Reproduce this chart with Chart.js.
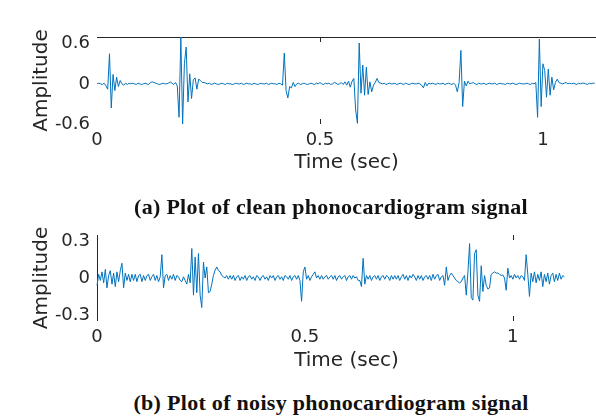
<!DOCTYPE html>
<html lang="en">
<head>
<meta charset="UTF-8">
<title>Phonocardiogram signals</title>
<script src="https://cdn.jsdelivr.net/npm/chart.js"></script>
<style>
  body { margin: 0; width: 596px; height: 416px; overflow: hidden; background: #fff; position: relative; }
  canvas { position: absolute; left: 0; }
  #cleanChart { top: 0; }
  #noisyChart { top: 200px; }
  .caption {
    position: absolute; left: 331px; transform: translateX(-50%);
    white-space: nowrap; font: bold 22px "Liberation Serif", serif;
    letter-spacing: 0.3px; line-height: 24px; color: #111;
  }
</style>
</head>
<body>
<canvas id="cleanChart" width="596" height="175"></canvas>
<canvas id="noisyChart" width="596" height="175"></canvas>
<div class="caption" style="top:195px">(a) Plot of clean phonocardiogram signal</div>
<div class="caption" style="top:391px">(b) Plot of noisy phonocardiogram signal</div>

<script>
// sample spacing of both recordings (sec)
const sampleStep = 0.004;

// clean recording, one value per sample
const cleanAmp = [
  0, 0.01, 0, -0.01, 0.01, -0.03, -0.08, 0.45, -0.36, 0.14, -0.1, 0.1, -0.04, 0.05, 0, -0.02, 0.01, -0.01, 0.01, 0,
  0.01, 0, -0.01, 0.01, 0, -0.01, 0, 0.01, 0, -0.01, 0.02, 0.03, 0.02, 0.01, 0, -0.01, 0, 0.01, 0, 0,
  0.01, 0.03, 0.01, -0.01, 0.02, -0.03, -0.5, 0.7, -0.6, 0.3, 0.55, -0.27, 0.15, -0.22, 0.06, 0.09, -0.08, 0.07, 0.05, 0.02,
  0.02, 0.01, 0, 0.01, -0.01, 0, 0.01, 0, -0.01, 0, 0.01, 0, -0.01, 0.01, 0, 0, -0.01, 0, 0.01, 0,
  0, 0.01, -0.01, 0, 0.01, 0, 0, -0.01, 0.01, 0, -0.01, 0, 0.01, 0, 0, 0.01, -0.01, 0, 0.01, 0,
  0, -0.01, 0.01, 0, -0.02, 0.46, -0.1, -0.21, -0.04, -0.06, 0.02, -0.04, 0, 0.01, -0.01, 0, 0.01, 0, -0.01, 0,
  0.01, 0, -0.01, 0.01, 0, 0.02, 0, -0.01, 0.01, 0, 0.01, -0.01, 0, 0.02, 0.01, -0.01, 0, 0.02, -0.01, 0.03,
  -0.02, 0.04, -0.05, 0.04, 0.08, -0.39, -0.59, 0.61, -0.14, 0.28, -0.17, 0.25, -0.16, 0.03, -0.12, -0.02, 0.02, 0.08, 0.02, 0.01,
  0, 0.01, -0.01, 0, 0.01, 0, 0, 0.01, -0.01, 0, 0.01, 0, -0.01, 0.01, 0, -0.01, 0, 0.01, 0, 0,
  0.01, 0, -0.02, -0.06, 0.02, -0.03, 0.01, 0, 0.01, 0, -0.01, 0.01, 0, 0, 0.01, -0.01, 0, 0.01, 0, -0.01,
  0.01, -0.02, -0.12, 0.02, 0.5, -0.34, 0.04, -0.03, 0.04, 0, 0.01, 0.02, 0, -0.01, 0.01, 0, 0, 0.01, -0.01, 0,
  0.01, 0, 0, 0.01, -0.01, 0, 0.01, 0, 0, -0.01, 0.01, 0, 0, 0.01, 0, -0.01, 0, 0.01, 0, 0,
  0, 0.01, 0, -0.01, 0.01, 0, 0.02, -0.5, 0.67, -0.34, 0.3, 0.2, -0.2, 0.22, -0.17, 0.1, -0.09, 0.02, 0.07, 0.02,
  0.01, 0, 0.01, 0.02, 0, 0.01, 0, 0.01, 0, -0.01, 0.01, 0, 0.01, 0.01, 0, -0.01, 0.01, 0, 0.01, 0.01
];

// noisy recording, one value per sample
const noisyAmp = [
  -0.06, 0.03, -0.02, 0.05, -0.04, 0.07, -0.08, 0.02, 0.06, -0.05, 0.04, -0.07, 0.05, -0.03, 0.06, 0.12, -0.08, 0.04, -0.02, 0.03,
  -0.03, 0.03, -0.02, 0.03, -0.03, 0.02, 0.03, -0.03, 0.02, -0.02, 0.02, 0.03, -0.02, 0.01, 0.03, -0.02, 0.02, -0.03, 0.01, 0.19,
  -0.08, 0.02, 0.03, -0.02, 0.02, -0.01, 0.03, -0.02, 0.02, 0.01, -0.02, -0.03, 0.01, -0.02, -0.05, 0.03, -0.04, 0.24, -0.14, 0.17,
  -0.12, 0.2, -0.14, -0.24, 0.13, 0, 0.09, -0.12, -0.11, -0.05, 0.02, 0.065, 0.09, 0.06, 0.05, 0.02, 0.01, 0, 0.02, -0.01,
  0.02, -0.01, 0.02, -0.02, 0.01, 0.02, -0.02, 0.01, -0.01, 0.02, -0.02, 0.01, 0.02, -0.01, 0.01, -0.02, 0.02, 0.01, -0.02, 0.01,
  0.02, -0.01, 0.01, -0.02, 0.02, 0, 0.02, -0.02, 0.01, 0.02, -0.01, 0.01, -0.02, 0.02, 0.01, -0.01, 0.02, -0.02, 0.01, 0.02,
  -0.01, 0.02, -0.02, -0.19, 0.05, 0.09, -0.01, 0.02, -0.02, 0.01, 0.03, 0.05, 0, 0.02, -0.01, 0.02, -0.01, 0.01, 0.02, -0.01,
  0.01, 0.02, -0.01, 0.02, -0.02, 0.01, 0.02, -0.01, 0.01, 0.02, -0.02, 0.01, 0.02, -0.01, 0.02, 0, 0.01, -0.02, -0.02, -0.07,
  0.16, -0.05, 0.02, -0.01, 0.02, -0.02, 0.01, 0.02, -0.01, 0.02, -0.02, 0.01, 0.02, -0.01, 0.02, 0.01, -0.02, 0.02, -0.01, 0.02,
  -0.01, 0.02, -0.02, 0.01, 0.03, -0.01, 0.02, -0.02, 0.02, 0, 0.03, 0.01, -0.02, 0.02, -0.01, 0.02, -0.02, 0.01, 0.02, -0.01,
  0.02, -0.02, 0.03, -0.01, 0.02, 0.03, -0.02, 0.01, 0.02, -0.06, 0.09, -0.02, 0.02, 0.04, 0.02, 0, -0.02, -0.03, -0.04, -0.03,
  0, 0.02, -0.14, 0.05, 0.28, -0.16, -0.18, 0.2, 0.23, -0.14, -0.19, 0.1, -0.11, 0.02, -0.06, -0.09, -0.08, 0.03, 0.04, 0.05,
  0.04, 0.04, 0.03, 0.02, 0.025, 0, -0.1, 0.08, 0, 0.02, -0.01, 0.03, 0, 0.02, -0.01, 0.02, 0.01, -0.02, 0.19, 0.03,
  -0.15, 0.04, -0.03, 0.05, -0.04, 0.03, -0.02, 0.05, -0.07, 0.03, -0.03, 0.04, -0.05, 0.02, 0.04, -0.03, 0.03, -0.02, 0.04, -0.01,
  0.02, 0.01
];

const timeTicks = [0, 0.5, 1];
const cleanYTicks = [-0.6, 0, 0.6];
const noisyYTicks = [-0.3, 0, 0.3];

const axisColor = '#262626';
const lineColor = '#0072BD';

// top/left box edges and the few inward tick marks that show in the figure
const axisMarks = {
  id: 'axisMarks',
  beforeDatasetsDraw(chart, args, opts) {
    const { ctx, chartArea: a, scales: { x } } = chart;
    ctx.save();
    ctx.strokeStyle = axisColor;
    ctx.lineWidth = 1;
    ctx.beginPath();
    if (opts.topLine) { ctx.moveTo(a.left, a.top + 0.5); ctx.lineTo(a.right, a.top + 0.5); }
    if (opts.leftLine) { ctx.moveTo(a.left + 0.5, a.top); ctx.lineTo(a.left + 0.5, a.bottom); }
    (opts.ticks || []).forEach(v => {
      const px = Math.round(x.getPixelForValue(v)) + 0.5;
      ctx.moveTo(px, a.top); ctx.lineTo(px, a.top + 5);
      ctx.moveTo(px, a.bottom); ctx.lineTo(px, a.bottom - 5);
    });
    ctx.stroke();
    ctx.restore();
  }
};

function makeChart(id, amp, yMin, yMax, yTicks, xMax, opt) {
  const points = amp.map((v, i) => ({ x: i * sampleStep, y: v }));
  return new Chart(document.getElementById(id), {
    type: 'line',
    data: {
      datasets: [{
        data: points,
        borderColor: lineColor,
        borderWidth: 1,
        pointRadius: 0,
        tension: 0,
        fill: false,
        clip: false
      }]
    },
    options: {
      responsive: false,
      animation: false,
      devicePixelRatio: 1,
      layout: { padding: { top: opt.padTop, left: 0, right: 0, bottom: 0 } },
      plugins: { legend: { display: false }, tooltip: { enabled: false }, axisMarks: opt.marks },
      scales: {
        x: {
          type: 'linear', min: 0, max: xMax,
          grid: { display: false, drawTicks: false },
          border: { display: false },
          afterBuildTicks: s => { s.ticks = timeTicks.map(v => ({ value: v })); },
          afterFit: s => { s.height = opt.xHeight; },
          ticks: { color: axisColor, padding: opt.xLabelPad, maxRotation: 0, autoSkip: false,
                   callback: v => String(v),
                   font: { family: 'DejaVu Sans', size: 18 } },
          title: { display: true, text: 'Time (sec)', color: axisColor,
                   font: { family: 'DejaVu Sans', size: 20 }, padding: { top: 0, bottom: opt.xTitlePad } }
        },
        y: {
          type: 'linear', min: yMin, max: yMax,
          grid: { display: false, drawTicks: false },
          border: { display: false },
          afterBuildTicks: s => { s.ticks = yTicks.map(v => ({ value: v })); },
          afterFit: s => { s.width = 97; },
          ticks: { color: axisColor, padding: 7, callback: v => String(v),
                   font: { family: 'DejaVu Sans', size: 18 } },
          title: { display: true, text: 'Amplitude', color: axisColor,
                   font: { family: 'DejaVu Sans', size: 20 }, padding: { top: 30, bottom: 0 } }
        }
      }
    },
    plugins: [axisMarks]
  });
}

makeChart('cleanChart', cleanAmp, -0.6, 0.7, cleanYTicks, 1.119,
  { padTop: 37, xHeight: 51, xLabelPad: 6, xTitlePad: 0,
    marks: { topLine: true, leftLine: false, ticks: [0.5] } });

makeChart('noisyChart', noisyAmp, -0.35, 0.35, noisyYTicks, 1.2,
  { padTop: 35, xHeight: 54, xLabelPad: 6, xTitlePad: 2,
    marks: { topLine: false, leftLine: true, ticks: [1] } });
</script>
</body>
</html>
